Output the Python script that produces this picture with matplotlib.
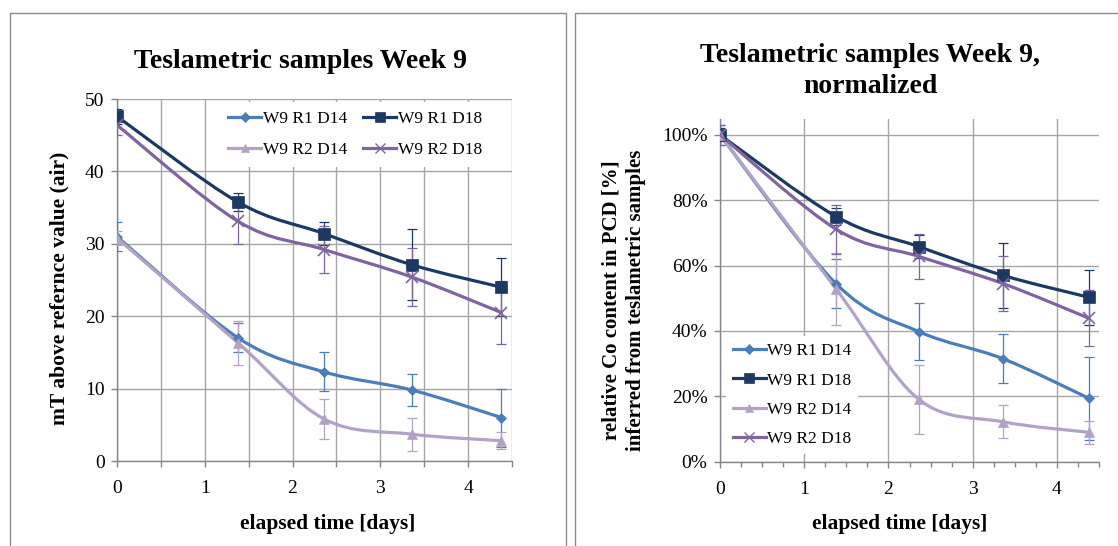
import matplotlib
matplotlib.use("Agg")
import matplotlib.pyplot as plt
from matplotlib.path import Path
from matplotlib.patches import PathPatch, Rectangle
from matplotlib.lines import Line2D
from matplotlib.ticker import PercentFormatter, MultipleLocator, FixedLocator

plt.rcParams['font.family'] = ['Liberation Serif', 'DejaVu Serif']

# ---------------- data ----------------
days = [0, 1.38, 2.36, 3.36, 4.38]
labels = ["W9 R1 D14", "W9 R1 D18", "W9 R2 D14", "W9 R2 D18"]

r1_d14 = [31.0, 17.0, 12.3, 9.8, 6.0]
r1_d18 = [47.6, 35.75, 31.4, 27.1, 24.0]
r2_d14 = [30.8, 16.3, 5.8, 3.7, 2.8]
r2_d18 = [46.4, 33.1, 29.2, 25.4, 20.5]
r1_d14_err = [2.0, 2.0, 2.7, 2.2, 4.0]
r1_d18_err = [1.0, 1.2, 1.6, 4.9, 4.0]
r2_d14_err = [1.0, 3.0, 2.8, 2.3, 1.2]
r2_d18_err = [1.4, 3.1, 3.2, 4.0, 4.3]

n_r1_d14 = [100, 54.4, 39.8, 31.5, 19.4]
n_r1_d18 = [100, 75.0, 65.8, 57.0, 50.3]
n_r2_d14 = [100, 52.8, 19.1, 12.2, 9.0]
n_r2_d18 = [100, 71.1, 62.8, 54.5, 43.9]
n_r1_d14_err = [3, 7.5, 8.7, 7.5, 12.7]
n_r1_d18_err = [2, 2.7, 3.6, 10.0, 8.4]
n_r2_d14_err = [3, 11.0, 10.5, 5.0, 3.5]
n_r2_d18_err = [3, 7.5, 7.0, 8.5, 8.5]

left_yticks = [0, 10, 20, 30, 40, 50]
right_yticks = [0, 20, 40, 60, 80, 100]
xtick_labels = ["0", "1", "2", "3", "4"]

colors = ['#4A7EBB', '#1B3A63', '#B3A2C7', '#8064A2']
markers = ['D', 's', '^', 'x']
msizes = [5.5, 8, 7, 9]

W, H = 1118, 546
fig = plt.figure(figsize=(W / 100, H / 100), dpi=100)


def px_axes(x0, x1, ytop, ybot):
    return fig.add_axes([x0 / W, (H - ybot) / H, (x1 - x0) / W, (ybot - ytop) / H])


def smooth_path(xs, ys):
    pts = list(zip(xs, ys))
    n = len(pts)
    verts = [pts[0]]
    codes = [Path.MOVETO]
    for i in range(n - 1):
        p0 = pts[i - 1] if i > 0 else pts[i]
        p1 = pts[i]
        p2 = pts[i + 1]
        p3 = pts[i + 2] if i + 2 < n else pts[i + 1]
        c1 = (p1[0] + (p2[0] - p0[0]) / 6, p1[1] + (p2[1] - p0[1]) / 6)
        c2 = (p2[0] - (p3[0] - p1[0]) / 6, p2[1] - (p3[1] - p1[1]) / 6)
        verts += [c1, c2, p2]
        codes += [Path.CURVE4] * 3
    return Path(verts, codes)


def draw_series(ax, ys, errs, i):
    c = colors[i]
    ax.errorbar(days, ys, yerr=errs, fmt='none', ecolor=c, elinewidth=0.9,
                capsize=3.5, capthick=0.9, zorder=3)
    ax.add_patch(PathPatch(smooth_path(days, ys), facecolor='none', edgecolor=c,
                           lw=2.3, zorder=4, capstyle='round', joinstyle='round'))
    ax.plot(days, ys, ls='none', marker=markers[i], ms=msizes[i], color=c,
            mec=c, mew=1.2 if markers[i] == 'x' else 0.5, zorder=5)


def legend_handles():
    return [Line2D([], [], color=colors[i], lw=2.3, marker=markers[i],
                   ms=msizes[i] * 0.85, mew=1.0 if markers[i] == 'x' else 0.5)
            for i in range(4)]


def style_axes(ax):
    for s in ['top', 'right']:
        ax.spines[s].set_visible(False)
    for s in ['left', 'bottom']:
        ax.spines[s].set_color('#868686')
        ax.spines[s].set_linewidth(1.0)
    ax.tick_params(axis='both', which='both', direction='out', color='#868686',
                   labelcolor='black')
    ax.tick_params(axis='both', which='major', length=4, width=1, labelsize=14)
    ax.tick_params(axis='x', which='major', pad=10)
    ax.tick_params(axis='y', which='major', pad=5)
    ax.grid(True, which='major', color='#a6a6a6', lw=1.0)
    ax.set_axisbelow(True)


# frames
fig.add_artist(Rectangle((9.5 / W, -0.01), (566 - 9.5) / W, (H - 13) / H + 0.01,
                         transform=fig.transFigure, fill=False, ec='#8c8c8c', lw=1.0))
fig.add_artist(Rectangle((574.5 / W, -0.01), (W + 5 - 574.5) / W, (H - 13) / H + 0.01,
                         transform=fig.transFigure, fill=False, ec='#8c8c8c', lw=1.0,
                         clip_on=False))

# ---------------- left chart ----------------
ax1 = px_axes(117, 512, 99, 461)
style_axes(ax1)
ax1.set_xlim(0, 4.5)
ax1.set_ylim(0, 50)
ax1.set_yticks(left_yticks)
ax1.xaxis.set_major_locator(FixedLocator([0, 0.5, 1, 1.5, 2, 2.5, 3, 3.5, 4, 4.5]))
ax1.set_xticklabels(["0", "", "1", "", "2", "", "3", "", "4", ""])
for i, (ys, es) in enumerate([(r1_d14, r1_d14_err), (r1_d18, r1_d18_err),
                              (r2_d14, r2_d14_err), (r2_d18, r2_d18_err)]):
    draw_series(ax1, ys, es, i)
h = legend_handles()
order = [0, 2, 1, 3]  # row-wise filling for two columns
leg1 = ax1.legend([h[k] for k in order], [labels[k] for k in order], ncol=2,
                  loc='center', bbox_to_anchor=(0.603, 0.902), fontsize=12.5,
                  frameon=True, handlelength=1.9, handletextpad=0.1,
                  columnspacing=0.9, labelspacing=0.9, borderpad=0.5)
leg1.get_frame().set_facecolor('white')
leg1.get_frame().set_edgecolor('none')
leg1.get_frame().set_alpha(1)
leg1.set_zorder(10)

fig.text(300 / W, 1 - 62 / H, "Teslametric samples Week 9", ha='center', va='center',
         fontsize=20, fontweight='bold')
fig.text(59 / W, 1 - 288 / H, "mT above refernce value (air)", ha='center', va='center',
         rotation=90, fontsize=15.5, fontweight='bold')
fig.text(328 / W, 1 - 524 / H, "elapsed time [days]", ha='center', va='center',
         fontsize=15.5, fontweight='bold')

# ---------------- right chart ----------------
ax2 = px_axes(720, 1099, 118.5, 461.7)
style_axes(ax2)
ax2.set_xlim(0, 4.5)
ax2.set_ylim(0, 105)
ax2.set_yticks(right_yticks)
ax2.yaxis.set_major_formatter(PercentFormatter(100, decimals=0))
ax2.set_xticks([0, 1, 2, 3, 4])
ax2.set_xticklabels(xtick_labels)
ax2.xaxis.set_minor_locator(MultipleLocator(0.25))
ax2.tick_params(axis='x', which='minor', length=3.5, width=1, color='#868686')
for i, (ys, es) in enumerate([(n_r1_d14, n_r1_d14_err), (n_r1_d18, n_r1_d18_err),
                              (n_r2_d14, n_r2_d14_err), (n_r2_d18, n_r2_d18_err)]):
    draw_series(ax2, ys, es, i)
leg2 = ax2.legend(legend_handles(), labels, ncol=1, loc='center',
                  bbox_to_anchor=(0.19, 0.194), fontsize=12.5, frameon=True,
                  handlelength=1.9, handletextpad=0.1, labelspacing=0.76,
                  borderpad=0.4)
leg2.get_frame().set_facecolor('white')
leg2.get_frame().set_edgecolor('none')
leg2.get_frame().set_alpha(1)
leg2.set_zorder(10)

fig.text(870 / W, 1 - 71 / H, "Teslametric samples Week 9,\nnormalized", ha='center',
         va='center', fontsize=20, fontweight='bold', linespacing=1.35)
fig.text(624 / W, 1 - 300 / H,
         "relative Co content in PCD [%]\ninferred from teslametric samples",
         ha='center', va='center', rotation=90, fontsize=15, fontweight='bold',
         linespacing=1.3)
fig.text(900 / W, 1 - 524 / H, "elapsed time [days]", ha='center', va='center',
         fontsize=15.5, fontweight='bold')

fig.savefig("out.png", dpi=100, facecolor='white')
